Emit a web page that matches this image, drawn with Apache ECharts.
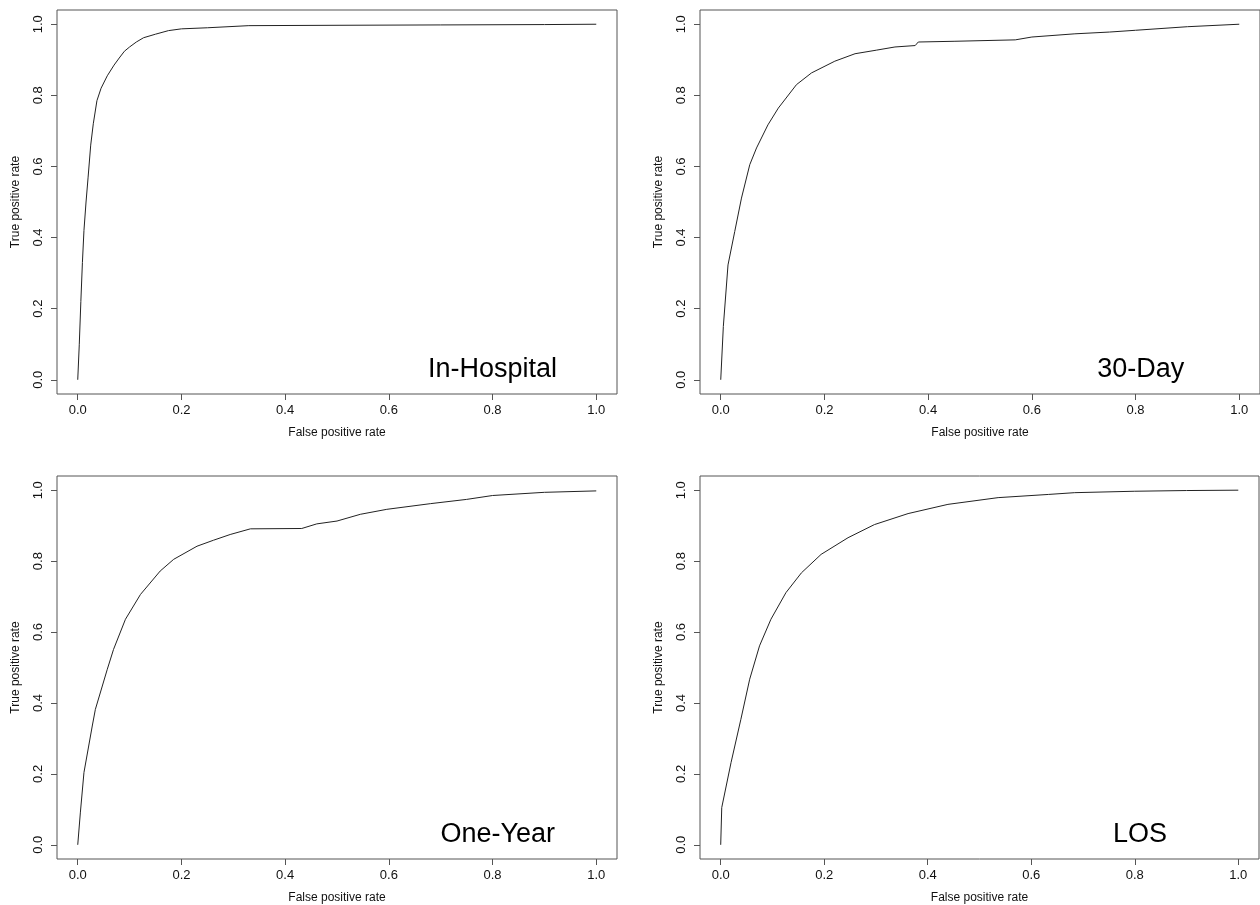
<!DOCTYPE html>
<html>
<head>
<meta charset="utf-8">
<title>ROC curves</title>
<script src="https://cdn.jsdelivr.net/npm/echarts@6/dist/echarts.min.js"></script>
<style>
    html, body { margin: 0; padding: 0; background: #fff; }
    .roc { width: 1260px; height: 905px; }
</style>
</head>
<body>
<div class="roc"></div>
<script>
// 刻度
var tickValues = [0, 0.2, 0.4, 0.6, 0.8, 1.0];
var panelNames = ['In-Hospital', '30-Day', 'One-Year', 'LOS'];

// In-Hospital
var inHospFpr = [0, 0.003, 0.006, 0.009, 0.012, 0.016, 0.02, 0.025, 0.03, 0.037, 0.045, 0.057, 0.07, 0.08, 0.09, 0.1, 0.113, 0.127, 0.15, 0.175, 0.2, 0.25, 0.33, 0.5, 0.7, 0.9, 1];
var inHospTpr = [0, 0.1, 0.22, 0.33, 0.42, 0.5, 0.57, 0.66, 0.72, 0.785, 0.82, 0.855, 0.885, 0.905, 0.924, 0.936, 0.95, 0.962, 0.972, 0.982, 0.987, 0.99, 0.996, 0.997, 0.998, 0.999, 1];

// 30-Day
var day30Fpr = [0, 0.001, 0.005, 0.014, 0.027, 0.04, 0.056, 0.069, 0.091, 0.111, 0.146, 0.175, 0.22, 0.259, 0.3, 0.336, 0.375, 0.381, 0.45, 0.568, 0.6, 0.683, 0.75, 0.8, 0.9, 1];
var day30Tpr = [0, 0.004, 0.15, 0.323, 0.417, 0.511, 0.605, 0.652, 0.717, 0.764, 0.83, 0.863, 0.896, 0.917, 0.927, 0.936, 0.94, 0.95, 0.952, 0.956, 0.964, 0.973, 0.978, 0.983, 0.993, 1];

// One-Year
var year1Fpr = [0, 0.005, 0.012, 0.028, 0.034, 0.057, 0.069, 0.092, 0.121, 0.159, 0.185, 0.23, 0.262, 0.294, 0.333, 0.432, 0.461, 0.5, 0.545, 0.596, 0.68, 0.75, 0.8, 0.9, 1];
var year1Tpr = [0, 0.09, 0.204, 0.335, 0.382, 0.495, 0.551, 0.636, 0.706, 0.772, 0.805, 0.842, 0.859, 0.875, 0.891, 0.892, 0.905, 0.913, 0.932, 0.946, 0.962, 0.974, 0.985, 0.994, 0.998];

// LOS
var losFpr = [0, 0.002, 0.02, 0.039, 0.056, 0.075, 0.097, 0.126, 0.156, 0.194, 0.246, 0.297, 0.362, 0.439, 0.536, 0.633, 0.684, 0.8, 0.9, 1];
var losTpr = [0, 0.105, 0.232, 0.354, 0.467, 0.561, 0.636, 0.711, 0.767, 0.819, 0.866, 0.903, 0.934, 0.96, 0.979, 0.988, 0.993, 0.997, 0.999, 1];

var curves = [
    [inHospFpr, inHospTpr],
    [day30Fpr, day30Tpr],
    [year1Fpr, year1Tpr],
    [losFpr, losTpr]
];

function zip(xs, ys) {
    return xs.map(function (x, i) { return [x, ys[i]]; });
}

var grids = [
    {left: 57, top: 10, width: 560, height: 384},
    {left: 700, top: 10, width: 560, height: 384},
    {left: 57, top: 476, width: 560, height: 384},
    {left: 700, top: 476, width: 559, height: 384}
];

// 面板名称的位置 (数据坐标)
var labelXs = [0.8, 0.81, 0.81, 0.81];
var labelY = 0.03;

var fontName = '"Liberation Sans", Arial, Helvetica, sans-serif';
var xAxes = [], yAxes = [], series = [];

grids.forEach(function (g, i) {
    g.show = true;
    g.borderColor = '#555';
    g.borderWidth = 1;
    g.backgroundColor = '#fff';

    xAxes.push({
        gridIndex: i,
        type: 'value',
        min: -0.04,
        max: 1.04,
        name: 'False positive rate',
        nameLocation: 'middle',
        nameGap: 33,
        nameTextStyle: {fontFamily: fontName, fontSize: 12, color: '#111'},
        axisLine: {show: false, onZero: false},
        splitLine: {show: false},
        axisTick: {show: true, inside: false, length: 6, customValues: tickValues, lineStyle: {color: '#555'}},
        axisLabel: {
            customValues: tickValues,
            margin: 10,
            fontFamily: fontName,
            fontSize: 13,
            color: '#111',
            formatter: function (v) { return v.toFixed(1); }
        }
    });

    yAxes.push({
        gridIndex: i,
        type: 'value',
        min: -0.04,
        max: 1.04,
        name: 'True positive rate',
        nameLocation: 'middle',
        nameGap: 35,
        nameTextStyle: {fontFamily: fontName, fontSize: 12, color: '#111'},
        axisLine: {show: false, onZero: false},
        splitLine: {show: false},
        axisTick: {show: true, inside: false, length: 6, customValues: tickValues, lineStyle: {color: '#555'}},
        axisLabel: {
            customValues: tickValues,
            rotate: 90,
            margin: 12,
            fontFamily: fontName,
            fontSize: 13,
            color: '#111',
            formatter: function (v) { return v.toFixed(1); }
        }
    });

    series.push({
        type: 'line',
        xAxisIndex: i,
        yAxisIndex: i,
        data: zip(curves[i][0], curves[i][1]),
        showSymbol: false,
        silent: true,
        lineStyle: {color: '#222', width: 1}
    });

    // 面板名称
    series.push({
        type: 'scatter',
        xAxisIndex: i,
        yAxisIndex: i,
        symbolSize: 0,
        silent: true,
        itemStyle: {opacity: 1},
        data: [{name: panelNames[i], value: [labelXs[i], labelY]}],
        label: {
            show: true,
            position: 'inside',
            formatter: '{b}',
            fontFamily: fontName,
            fontSize: 27,
            color: '#000',
            opacity: 1
        }
    });
});

var roc = echarts.init(document.querySelector('.roc'));
roc.setOption({
    animation: false,
    backgroundColor: '#fff',
    grid: grids,
    xAxis: xAxes,
    yAxis: yAxes,
    series: series
});
</script>
</body>
</html>
